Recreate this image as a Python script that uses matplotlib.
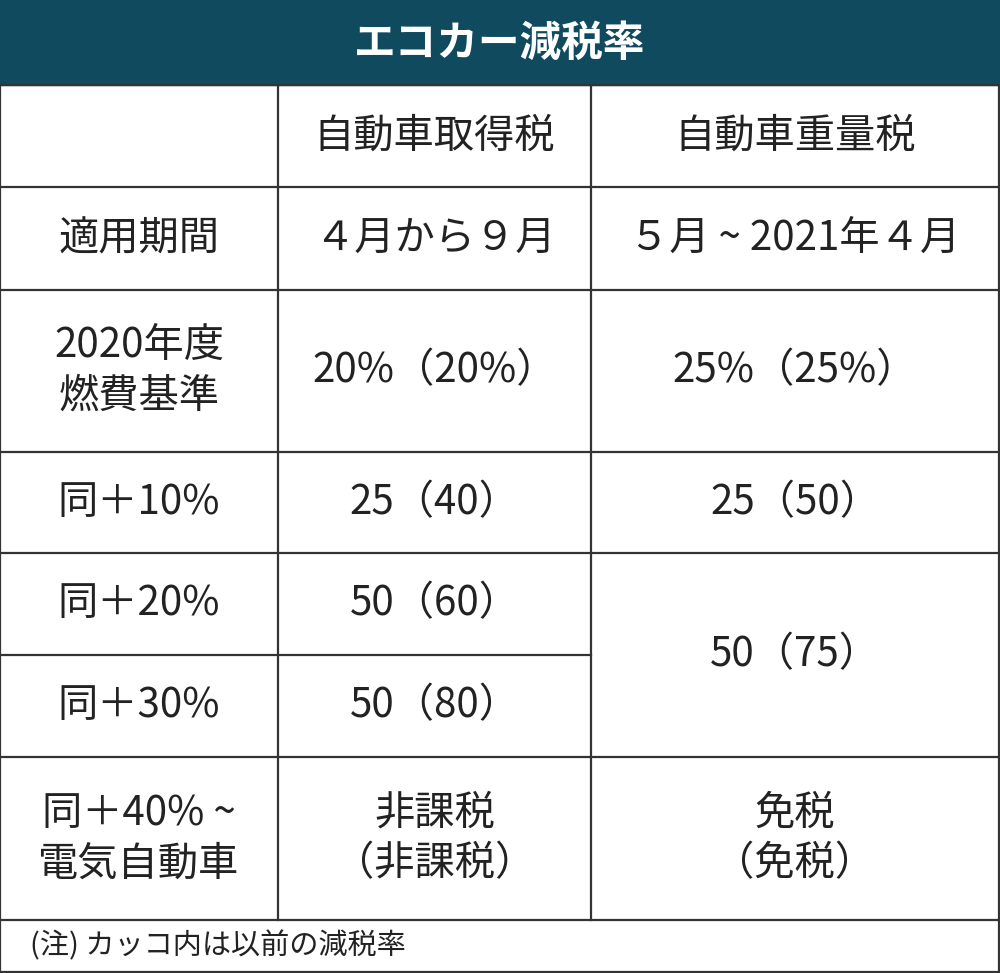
import matplotlib
matplotlib.use("Agg")
import matplotlib.pyplot as plt
from matplotlib.patches import Rectangle

plt.rcParams["font.family"] = "Noto Sans CJK JP"

title = "エコカー減税率"
headers = ["", "自動車取得税", "自動車重量税"]
row_labels = ["適用期間", "2020年度\n燃費基準", "同＋10%", "同＋20%", "同＋30%", "同＋40% ~\n電気自動車"]
acq_tax = ["４月から９月", "20%（20%）", "25（40）", "50（60）", "50（80）", "非課税\n（非課税）"]
weight_tax = ["５月 ~ 2021年４月", "25%（25%）", "25（50）", "50（75）", None, "免税\n（免税）"]
note = "(注) カッコ内は以前の減税率"

W, H = 1000, 973
fig = plt.figure(figsize=(W/100, H/100), dpi=100)
ax = fig.add_axes([0, 0, 1, 1])
ax.set_xlim(0, W); ax.set_ylim(H, 0); ax.axis("off")

cols = [0, 278, 591, 999]
rows = [85, 187, 290, 452, 553, 655, 757, 920]
lc = "#333333"; lw = 1.6
fs = 29

ax.add_patch(Rectangle((0, 0), W, 85, color="#0f4a5f"))
ax.text(W/2, 44, title, color="white", fontsize=30, fontweight="bold", ha="center", va="center")

for y in rows:
    if y == 655:
        ax.plot([cols[0], cols[2]], [y, y], color=lc, lw=lw)
    else:
        ax.plot([0, W], [y, y], color=lc, lw=lw)
for x in cols:
    ax.plot([x, x], [85, 920], color=lc, lw=lw)
ax.plot([0, 0], [920, 972], color=lc, lw=lw)
ax.plot([999, 999], [920, 972], color=lc, lw=lw)
ax.plot([0, W], [972, 972], color=lc, lw=lw)

def cx(c):
    return (cols[c] + cols[c+1]) / 2

for c, h in enumerate(headers):
    ax.text(cx(c), (rows[0]+rows[1])/2, h, fontsize=fs, ha="center", va="center", color="#222")

for r in range(len(row_labels)):
    y0, y1 = rows[r+1], rows[r+2] if r+2 < len(rows) else 920
    yc = (y0 + y1) / 2
    ax.text(cx(0), yc, row_labels[r], fontsize=fs, ha="center", va="center", linespacing=1.3, color="#222")
    ax.text(cx(1), yc, acq_tax[r], fontsize=fs, ha="center", va="center", linespacing=1.3, color="#222")
    wt = weight_tax[r]
    if wt is not None:
        if r + 1 < len(weight_tax) and weight_tax[r+1] is None:
            yc = (y0 + rows[r+3]) / 2
        ax.text(cx(2), yc, wt, fontsize=fs, ha="center", va="center", linespacing=1.3, color="#222")

ax.text(30, 946, note, fontsize=21, ha="left", va="center", color="#222")

fig.savefig("out.png", dpi=100, facecolor="white")
